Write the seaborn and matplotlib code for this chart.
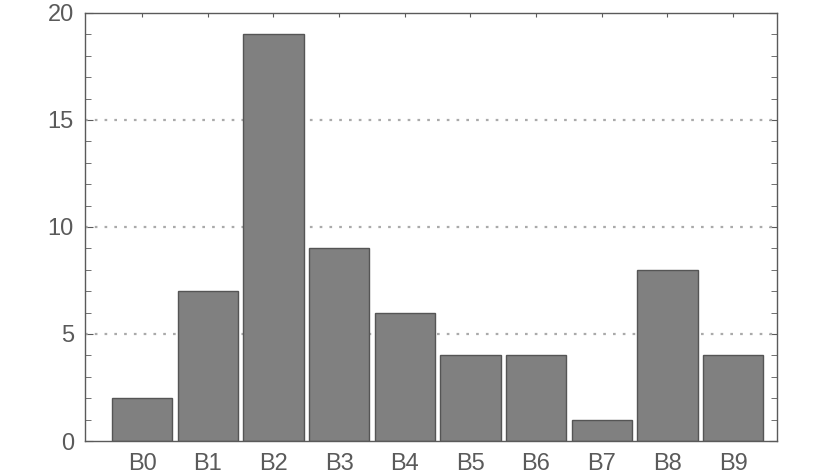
import matplotlib
matplotlib.use("Agg")
import matplotlib.pyplot as plt
from matplotlib.ticker import MultipleLocator
import seaborn as sns

# Bar chart data
categories = ["B0", "B1", "B2", "B3", "B4", "B5", "B6", "B7", "B8", "B9"]
counts = [2, 7, 19, 9, 6, 4, 4, 1, 8, 4]

sns.set_style("white")
plt.rcParams['font.family'] = ['Liberation Sans', 'DejaVu Sans']

ink = "#5a5a5a"

fig, ax = plt.subplots(figsize=(8.3, 4.75), dpi=100)
fig.subplots_adjust(left=85/830, right=777/830, top=1 - 13/475, bottom=1 - 441/475)

sns.barplot(x=categories, y=counts, color="#808080", saturation=1,
            width=0.92, edgecolor="#555555", linewidth=1.0, ax=ax, zorder=2)

ax.set_xlim(-0.87, 9.67)
ax.set_ylim(0, 20)
ax.yaxis.set_major_locator(MultipleLocator(5))
ax.yaxis.set_minor_locator(MultipleLocator(1))

# dotted horizontal grid
for y in [5, 10, 15]:
    ax.axhline(y, color="#aaaaaa", linestyle=(0, (1.2, 3.2)), linewidth=1.6, zorder=1)

for s in ax.spines.values():
    s.set_color(ink)
    s.set_linewidth(1.0)

ax.tick_params(axis="both", which="both", direction="in", colors=ink,
               labelcolor=ink, labelsize=17)
ax.tick_params(axis="y", which="major", length=6, left=True, right=True, pad=8)
ax.tick_params(axis="y", which="minor", length=4, left=True, right=True)
ax.tick_params(axis="x", which="major", length=3, top=True, bottom=True, pad=9)
ax.set_xlabel("")
ax.set_ylabel("")

fig.savefig("out.png", dpi=100)
